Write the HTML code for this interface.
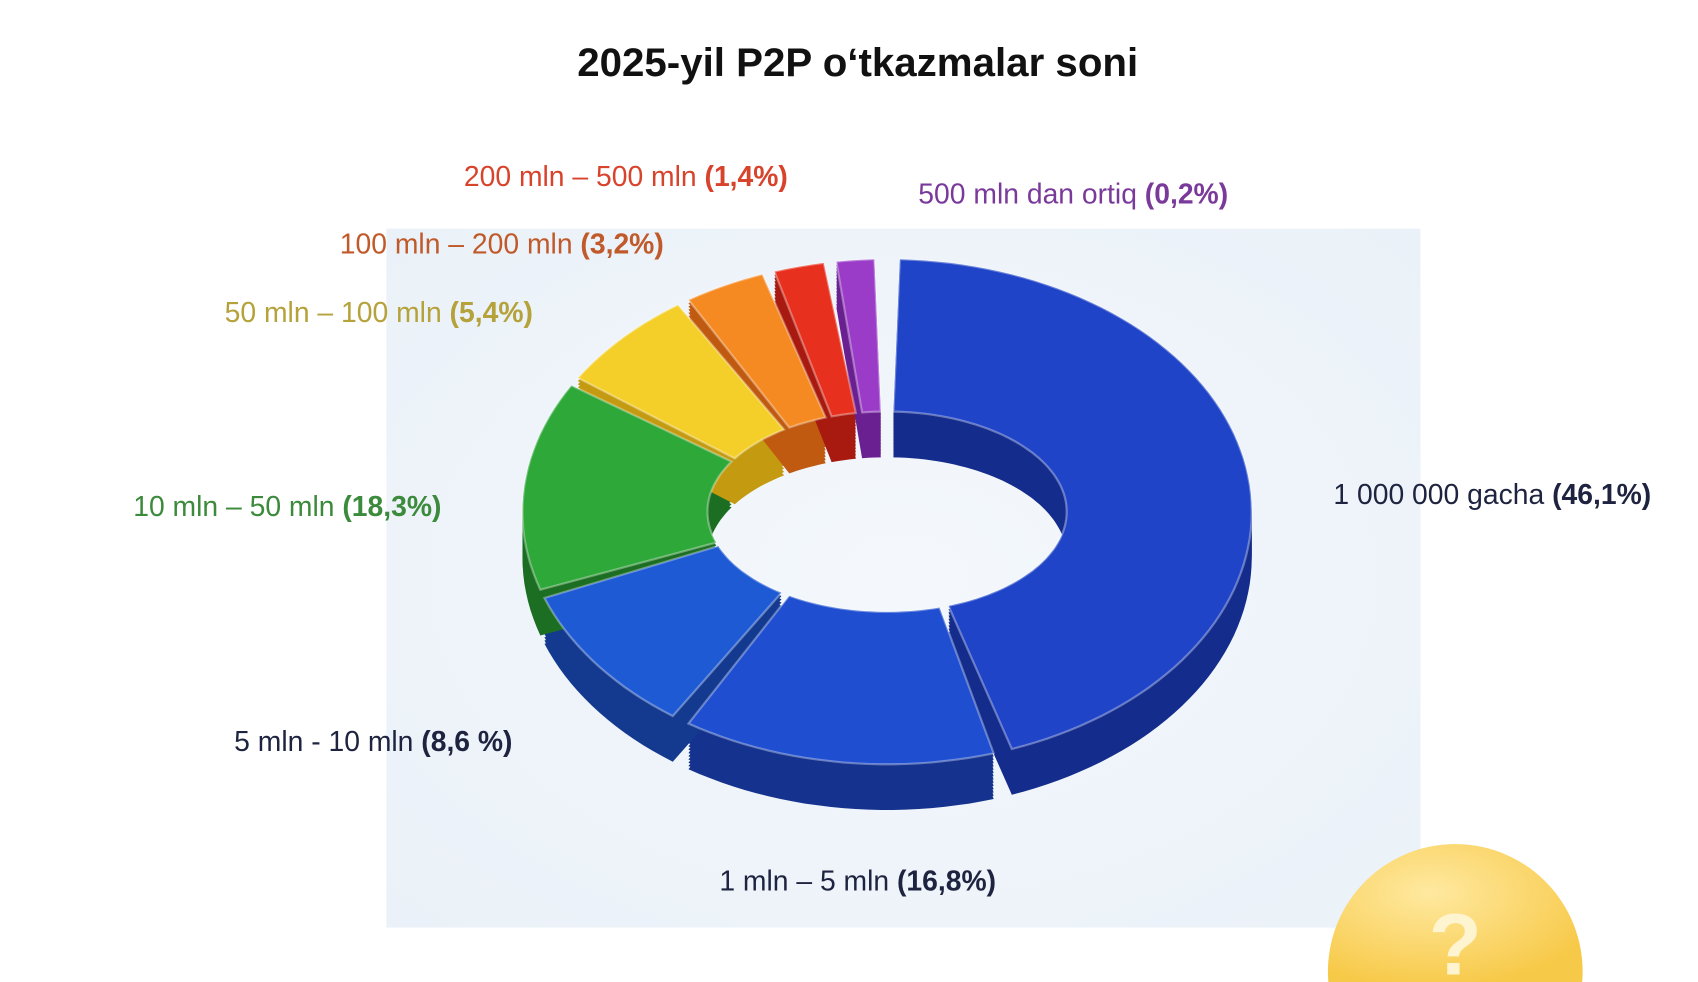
<!DOCTYPE html>
<html><head><meta charset="utf-8">
<style>
html,body{margin:0;padding:0;background:#fff;width:1698px;height:982px;overflow:hidden;}
svg{display:block;}
text{font-family:"Liberation Sans","DejaVu Sans",sans-serif;font-size:26px;}
</style></head>
<body>
<svg id="s" width="1698" height="982" viewBox="0 0 1560 902" preserveAspectRatio="none" xmlns="http://www.w3.org/2000/svg">
<defs>
<radialGradient id="bg" cx="50%" cy="50%" r="70%"><stop offset="0" stop-color="#f4f8fc"/><stop offset="1" stop-color="#eaf1f8"/></radialGradient>
<radialGradient id="yc" cx="40%" cy="35%" r="70%"><stop offset="0" stop-color="#ffe9a0"/><stop offset="1" stop-color="#f7c948"/></radialGradient>
</defs>
<rect x="0" y="0" width="1560" height="902" fill="#fff"/>
<rect x="355" y="210" width="950" height="642" fill="url(#bg)"/>
<path d="M1220.4 902 A117 117 0 1 1 1453.6 902 Z" fill="url(#yc)"/>
<text x="1337" y="895" text-anchor="middle" style="font-size:80px;font-weight:bold" fill="#fff4d0">?</text>
<g id="pie"></g>
<text x="788" y="70" text-anchor="middle" style="font-size:37px;font-weight:bold" fill="#111">2025-yil P2P o‘tkazmalar soni</text>
<text x="575" y="171" text-anchor="middle" fill="#d8432c">200 mln – 500 mln <tspan font-weight="bold">(1,4%)</tspan></text>
<text x="986" y="187" text-anchor="middle" fill="#7a3a9a">500 mln dan ortiq <tspan font-weight="bold">(0,2%)</tspan></text>
<text x="461" y="233" text-anchor="middle" fill="#c05a2a">100 mln – 200 mln <tspan font-weight="bold">(3,2%)</tspan></text>
<text x="348" y="296" text-anchor="middle" fill="#b5a23a">50 mln – 100 mln <tspan font-weight="bold">(5,4%)</tspan></text>
<text x="264" y="474" text-anchor="middle" fill="#3c8a3c">10 mln – 50 mln <tspan font-weight="bold">(18,3%)</tspan></text>
<text x="1371" y="463" text-anchor="middle" fill="#1e2340">1 000 000 gacha <tspan font-weight="bold">(46,1%)</tspan></text>
<text x="343" y="690" text-anchor="middle" fill="#1e2340">5 mln - 10 mln <tspan font-weight="bold">(8,6 %)</tspan></text>
<text x="788" y="818" text-anchor="middle" fill="#1e2340">1 mln – 5 mln <tspan font-weight="bold">(16,8%)</tspan></text>
</svg>
<script>
var cx=815,cy=470,RX=335,RY=232,rx=165,ry=92,D=42;
var segs=[[2,160,"#1f44c8","#142c8c"],[163,213,"#1f4fd0","#15338e"],[216,250,"#1e5ad4","#143a90"],[252,300,"#2fa83a","#1c6e22"],[302,325,"#f4cf2a","#c49a10"],[327,340,"#f58a22","#c05a10"],[342,350,"#e8301e","#a81a10"],[352,358,"#9a3cc8","#6a2090"]];
function pt(a,r1,r2,dy){a=a*Math.PI/180;return (cx+r1*Math.sin(a)).toFixed(1)+","+(cy-r2*Math.cos(a)+dy).toFixed(1);}
function slice(a,b,dy){var p="M"+pt(a,RX,RY,dy);for(var t=a;t<=b;t+=2)p+=" L"+pt(t,RX,RY,dy);p+=" L"+pt(b,RX,RY,dy);for(var t=b;t>=a;t-=2)p+=" L"+pt(t,rx,ry,dy);p+=" L"+pt(a,rx,ry,dy)+"Z";return p;}
var g=document.getElementById("pie"),h="";
segs.forEach(function(s){for(var k=D;k>0;k-=3)h+='<path d="'+slice(s[0],s[1],k)+'" fill="'+s[3]+'"/>';});
segs.forEach(function(s){h+='<path d="'+slice(s[0],s[1],0)+'" fill="'+s[2]+'" stroke="rgba(255,255,255,0.35)" stroke-width="2"/>';});
g.innerHTML=h;
</script>
</body></html>
